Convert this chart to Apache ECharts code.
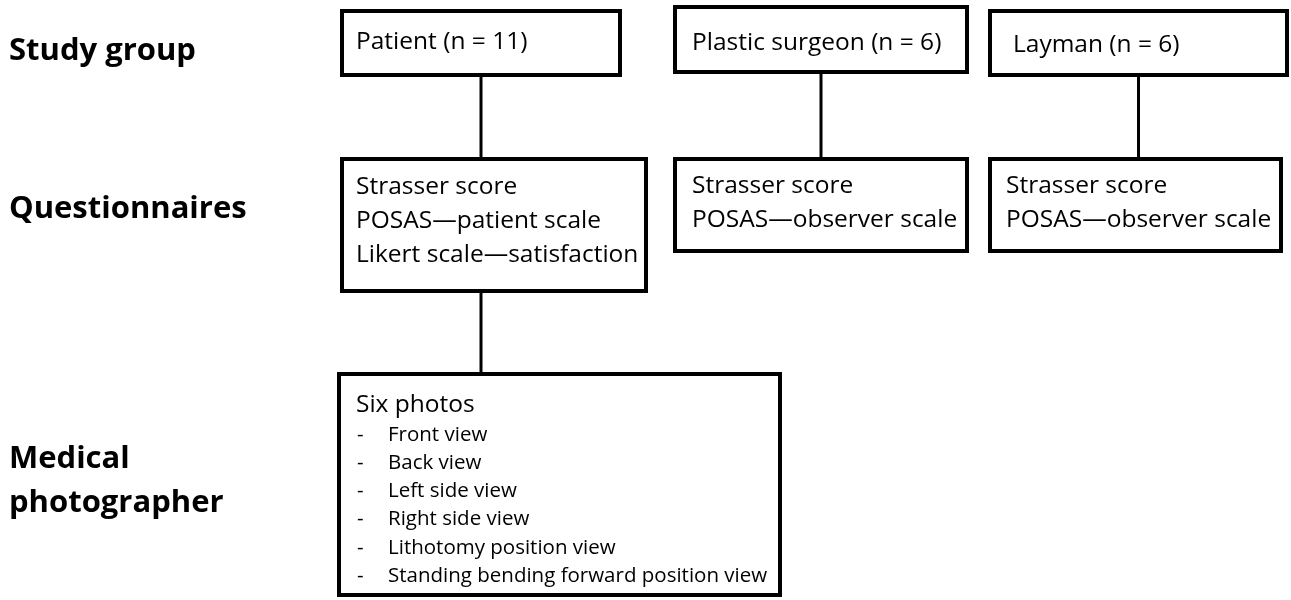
<!DOCTYPE html>
<html>
<head>
<meta charset="utf-8">
<title>Study flow</title>
<script src="https://cdn.jsdelivr.net/npm/echarts@6/dist/echarts.min.js"></script>
<style>
    html, body { margin: 0; padding: 0; background: #fff; }
    #flow_chart { width: 1291px; height: 600px; }
</style>
</head>
<body>
<div id="flow_chart"></div>
<script>
// Diagram content
var rowLabels = [['Study group'], ['Questionnaires'], ['Medical', 'photographer']];
var groups = ['Patient (n = 11)', 'Plastic surgeon (n = 6)', 'Layman (n = 6)'];
var questionnaires = [
    ['Strasser score', 'POSAS\u2014patient scale', 'Likert scale\u2014satisfaction'],
    ['Strasser score', 'POSAS\u2014observer scale'],
    ['Strasser score', 'POSAS\u2014observer scale']
];
var photoTitle = 'Six photos';
var photoViews = ['Front view', 'Back view', 'Left side view', 'Right side view',
    'Lithotomy position view', 'Standing bending forward position view'];

// Layout (in diagram units, same scale as the hidden axes; outer box edges)
var rowLabelPos = [[9, 60], [9, 218], [9, 468]];
var groupBoxes = [[340, 9, 622, 77], [673, 5, 969, 74], [988, 9, 1289, 77]];
var groupText = [[16, 40], [19, 45], [25, 43]];
var questBoxes = [[340, 157, 648, 293], [673, 157, 969, 253], [988, 157, 1283, 253]];
var questText = [[16, 37], [19, 36], [18, 36]];
var photoBox = [337, 372, 782, 597];

var FONT = '"Open Sans", sans-serif';
var BORDER = 4;

var _flowChart = function () {
    if (typeof echarts == 'undefined') {
        console.warn('Warning - echarts.min.js is not loaded.');
        return;
    }

    var flow_element = document.getElementById('flow_chart');
    if (!flow_element) return;

    var flow_chart = echarts.init(flow_element);

    // baseline -> middle helper
    function txt(x, baseline, str, size, weight) {
        return {
            type: 'text',
            style: {
                x: x,
                y: baseline - 0.29 * size,
                text: str,
                fill: '#000',
                font: (weight || 'normal') + ' ' + size + 'px ' + FONT,
                align: 'left',
                verticalAlign: 'middle'
            }
        };
    }

    // Box data: geometry + which content block it holds
    var boxData = [];
    groups.forEach(function (g, i) {
        boxData.push({ value: groupBoxes[i], kind: 'group', idx: i });
    });
    questionnaires.forEach(function (q, i) {
        boxData.push({ value: questBoxes[i], kind: 'quest', idx: i });
    });
    boxData.push({ value: photoBox, kind: 'photo', idx: 0 });

    // Connectors: each group box down to its questionnaire box, then patient -> photographer
    var linkData = [];
    groupBoxes.forEach(function (b, i) {
        linkData.push([(b[0] + b[2]) / 2, b[3], questBoxes[i][1]]);
    });
    linkData.push([(groupBoxes[0][0] + groupBoxes[0][2]) / 2, questBoxes[0][3], photoBox[1]]);

    var renderBox = function (params, api) {
        var item = boxData[params.dataIndex];
        var p0 = api.coord([api.value(0), api.value(1)]);
        var p1 = api.coord([api.value(2), api.value(3)]);
        var h = BORDER / 2;
        var children = [{
            type: 'rect',
            shape: { x: p0[0] + h, y: p0[1] + h, width: p1[0] - p0[0] - BORDER, height: p1[1] - p0[1] - BORDER },
            style: { fill: '#fff', stroke: '#000', lineWidth: BORDER }
        }];
        if (item.kind === 'group') {
            var gt = groupText[item.idx];
            children.push(txt(p0[0] + gt[0], p0[1] + gt[1], groups[item.idx], 24.5));
        } else if (item.kind === 'quest') {
            var qt = questText[item.idx];
            questionnaires[item.idx].forEach(function (line, k) {
                children.push(txt(p0[0] + qt[0], p0[1] + qt[1] + k * 34, line, 24.5));
            });
        } else {
            children.push(txt(p0[0] + 19, p0[1] + 40, photoTitle, 24.5));
            photoViews.forEach(function (v, k) {
                var b = p0[1] + 69 + k * 28.2;
                children.push(txt(p0[0] + 20, b, '-', 20.5));
                children.push(txt(p0[0] + 51, b, v, 20.5));
            });
        }
        return { type: 'group', children: children };
    };

    var renderLink = function (params, api) {
        var a = api.coord([api.value(0), api.value(1)]);
        var b = api.coord([api.value(0), api.value(2)]);
        return {
            type: 'line',
            shape: { x1: a[0], y1: a[1], x2: b[0], y2: b[1] },
            style: { stroke: '#000', lineWidth: 3 }
        };
    };

    var renderLabel = function (params, api) {
        var p = api.coord([api.value(0), api.value(1)]);
        var lines = rowLabels[params.dataIndex];
        return {
            type: 'group',
            children: lines.map(function (l, k) {
                return txt(p[0], p[1] + k * 44, l, 31, 'bold');
            })
        };
    };

    flow_chart.setOption({
        animation: false,
        backgroundColor: '#fff',
        grid: { left: 0, right: 0, top: 0, bottom: 0 },
        xAxis: { type: 'value', min: 0, max: 1291, show: false },
        yAxis: { type: 'value', min: 0, max: 600, inverse: true, show: false },
        series: [
            {
                type: 'custom',
                name: 'links',
                renderItem: renderLink,
                data: linkData,
                encode: { x: 0, y: [1, 2] },
                z: 1
            },
            {
                type: 'custom',
                name: 'boxes',
                renderItem: renderBox,
                data: boxData,
                encode: { x: [0, 2], y: [1, 3] },
                z: 2
            },
            {
                type: 'custom',
                name: 'rows',
                renderItem: renderLabel,
                data: rowLabelPos,
                encode: { x: 0, y: 1 },
                z: 3
            }
        ]
    });

    window.addEventListener('resize', function () {
        flow_chart.resize();
    });
};

_flowChart();
</script>
</body>
</html>
